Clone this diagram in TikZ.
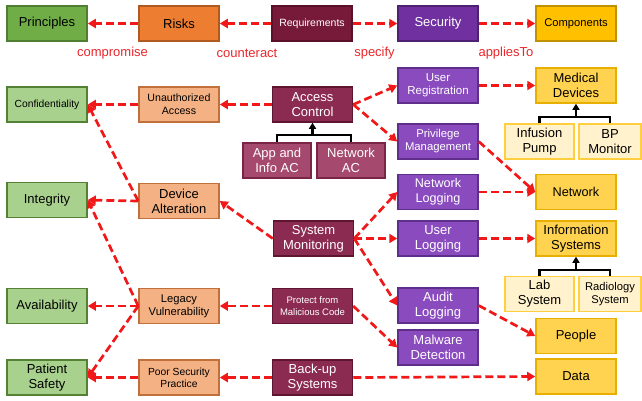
\documentclass[tikz,border=0pt]{standalone}
\usepackage{fontspec}
\setmainfont{Liberation Sans}
\usetikzlibrary{arrows.meta}
\definecolor{gDark}{HTML}{70AD47}\definecolor{gDarkB}{HTML}{507E32}
\definecolor{gLight}{HTML}{A9D18E}\definecolor{gLightB}{HTML}{548235}
\definecolor{oDark}{HTML}{ED7D31}\definecolor{oDarkB}{HTML}{AE5A21}
\definecolor{oLight}{HTML}{F4B183}\definecolor{oLightB}{HTML}{C0703A}
\definecolor{mReq}{HTML}{771A3A}\definecolor{mReqB}{HTML}{5A1029}
\definecolor{mMid}{HTML}{8C2B52}\definecolor{mMidB}{HTML}{5E1530}
\definecolor{mLight}{HTML}{A54A6E}\definecolor{mLightB}{HTML}{7A2446}
\definecolor{pDark}{HTML}{7030A0}\definecolor{pDarkB}{HTML}{4E2270}
\definecolor{pLight}{HTML}{8A4BBE}\definecolor{pLightB}{HTML}{5F2D8A}
\definecolor{yDark}{HTML}{FFC000}\definecolor{yDarkB}{HTML}{BF9000}
\definecolor{yMid}{HTML}{FFD24F}\definecolor{yMidB}{HTML}{E8AE00}
\definecolor{yLight}{HTML}{FFF2CC}\definecolor{yLightB}{HTML}{FFCF40}
\definecolor{relRed}{HTML}{F01818}
\definecolor{lblRed}{HTML}{E8262B}
\newcommand{\fs}[2]{\fontsize{#1}{#2}\selectfont}
\begin{document}
\begin{tikzpicture}[x=1pt,y=-1pt,
  box/.style={draw, line width=1.5pt, inner sep=1pt, align=center,
    font=\fs{13}{15}, minimum width=80pt, minimum height=35pt},
  grD/.style={box, fill=gDark, draw=gDarkB},
  grL/.style={box, fill=gLight, draw=gLightB},
  orD/.style={box, fill=oDark, draw=oDarkB},
  orL/.style={box, fill=oLight, draw=oLightB},
  maR/.style={box, fill=mReq, draw=mReqB, text=white},
  maM/.style={box, fill=mMid, draw=mMidB, text=white},
  maL/.style={box, fill=mLight, draw=mLightB, text=white, minimum width=68pt},
  puD/.style={box, fill=pDark, draw=pDarkB, text=white},
  puL/.style={box, fill=pLight, draw=pLightB, text=white},
  yeD/.style={box, fill=yDark, draw=yDarkB},
  yeM/.style={box, fill=yMid, draw=yMidB},
  yeL/.style={box, fill=yLight, draw=yLightB},
  rel/.style={draw=relRed, line width=2.7pt, dash pattern=on 8pt off 4pt,
    -{Triangle[length=8pt,width=9pt]}},
  treeln/.style={draw=black, line width=2.2pt},
  treear/.style={treeln, -{Triangle[length=6pt,width=7pt]}},
  lbl/.style={text=lblRed, font=\fs{13}{15}, inner sep=0pt}
]
\useasboundingbox (0,0) rectangle (642,400);

% top row
\node[grD] (prin) at (47,23.5) {Principles};
\node[orD] (risk) at (179,23.5) {Risks};
\node[maR, font=\fs{10.5}{12}] (req) at (312,23.5) {Requirements};
\node[puD] (sec) at (438,23.5) {Security};
\node[yeD, font=\fs{11.2}{13}] (comp) at (576,23.5) {Components};
\node[lbl] (lcomp) at (112.5,53) {compromise};
\node[lbl] (lcount) at (247,53) {counteract};
\node[lbl] (lspec) at (374.5,53) {specify};
\node[lbl] (lappl) at (506,53) {appliesTo};

% column 1
\node[grL, font=\fs{10.3}{12}] (conf) at (47,104.5) {Confidentiality};
\node[grL] (integ) at (47,200) {Integrity};
\node[grL] (avail) at (47,306) {Availability};
\node[grL] (pats) at (47,377.5) {Patient\\Safety};

% column 2
\node[orL, font=\fs{10.6}{13}] (unauth) at (179,104.5) {Unauthorized\\Access};
\node[orL] (devalt) at (179,201) {Device\\Alteration};
\node[orL, font=\fs{11.2}{13.3}] (legacy) at (179,306) {Legacy\\Vulnerability};
\node[orL, font=\fs{10.3}{12.3}] (poor) at (179,377.5) {Poor Security\\Practice};

% column 3
\node[maM] (acc) at (312.5,104.5) {Access\\Control};
\node[maL] (appac) at (277,160.5) {App and\\Info AC};
\node[maL] (netac) at (351,160.5) {Network\\AC};
\node[maM] (sysmon) at (313.5,238.5) {System\\Monitoring};
\node[maM, font=\fs{9.5}{11.7}] (prot) at (312.5,306) {Protect from\\Malicious Code};
\node[maM] (backup) at (312.5,377.5) {Back-up\\Systems};

% column 4
\node[puL, font=\fs{11.5}{13}] (ureg) at (438,85.5) {User\\Registration};
\node[puL, font=\fs{11.3}{13}] (priv) at (438,141.5) {Privilege\\Management};
\node[puL, font=\fs{12.6}{15}] (netlog) at (438,192) {Network\\Logging};
\node[puL] (ulog) at (438,238.5) {User\\Logging};
\node[puL] (alog) at (438,305.5) {Audit\\Logging};
\node[puL] (malw) at (438,347.5) {Malware\\Detection};

% column 5
\node[yeM] (meddev) at (576,85.5) {Medical\\Devices};
\node[yeL, minimum width=69pt] (infp) at (539.5,141.5) {Infusion\\Pump};
\node[yeL, minimum width=62pt] (bpm) at (610,141.5) {BP\\Monitor};
\node[yeM, font=\fs{12.7}{15}] (netw) at (576,192) {Network};
\node[yeM] (infsys) at (576,238.5) {Information\\Systems};
\node[yeL, minimum width=69pt] (lab) at (539.5,294) {Lab\\System};
\node[yeL, minimum width=62pt, font=\fs{11.2}{12.7}] (radio) at (610,294) {Radiology\\System};
\node[yeM] (people) at (576,336) {People};
\node[yeM] (data) at (576,376.5) {Data};

% tree connectors
\coordinate (acj) at (312.5,135);
\draw[treear] (appac.north) |- (acj) -- (acc.south);
\draw[treeln] (netac.north) |- (acj);
\coordinate (mdj) at (576,117);
\draw[treear] (infp.north) |- (mdj) -- (meddev.south);
\draw[treeln] (bpm.north) |- (mdj);
\coordinate (isj) at (576,270);
\draw[treear] (lab.north) |- (isj) -- (infsys.south);
\draw[treeln] (radio.north) |- (isj);

% relations top
\draw[rel] (risk) -- (prin);
\draw[rel] (req) -- (risk);
\draw[rel] (req) -- (sec);
\draw[rel] (sec) -- (comp);

% relations body
\draw[rel] (unauth.west) -- (conf.east);
\draw[rel] (acc.west) -- (unauth.east);
\draw[rel] (acc.east) -- (ureg.west);
\draw[rel] (acc.east) -- (priv.west);
\draw[rel] (ureg.east) -- (meddev.west);
\draw[rel] (priv.east) -- (netw.west);
\draw[rel] (netlog.east) -- (netw.west);
\draw[rel] (devalt.west) -- (conf.east);
\draw[rel] (devalt.west) -- (integ.east);
\draw[rel] (sysmon.west) -- (devalt.east);
\draw[rel] (sysmon.east) -- (netlog.west);
\draw[rel] (sysmon.east) -- (ulog.west);
\draw[rel] (sysmon.east) -- (alog.west);
\draw[rel] (ulog.east) -- (infsys.west);
\draw[rel] (alog.east) -- (people.west);
\draw[rel] (legacy.west) -- (integ.east);
\draw[rel] (legacy.west) -- (avail.east);
\draw[rel] (legacy.west) -- (pats.east);
\draw[rel] (prot.west) -- (legacy.east);
\draw[rel] (prot.east) -- (malw.west);
\draw[rel] (poor.west) -- (pats.east);
\draw[rel] (backup.west) -- (poor.east);
\draw[rel] (backup.east) -- (data.west);
\end{tikzpicture}
\end{document}
